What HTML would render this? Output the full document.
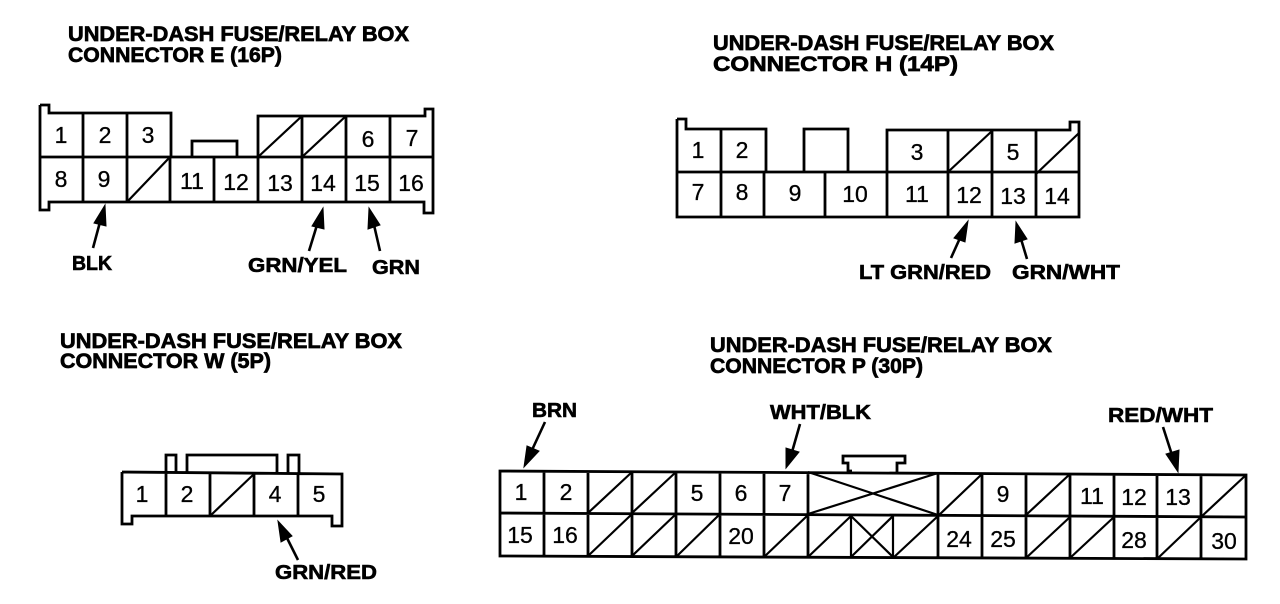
<!DOCTYPE html>
<html><head><meta charset="utf-8"><style>
html,body{margin:0;padding:0;background:#fff;width:1280px;height:604px;overflow:hidden}
svg{display:block}
.t{font:bold 21.5px "Liberation Sans",sans-serif;fill:#000;stroke:#000;stroke-width:.7px}
.l{font:bold 20px "Liberation Sans",sans-serif;fill:#000;stroke:#000;stroke-width:.6px}
.n text{font:23px "Liberation Sans",sans-serif;fill:#000;text-anchor:middle;stroke:#000;stroke-width:.3px}
.s{fill:none;stroke:#000;stroke-width:2.8;stroke-linejoin:miter}
.d{fill:none;stroke:#000;stroke-width:2.2}
.a line{stroke:#000;stroke-width:2.6}
.a polygon{fill:#000;stroke:#000;stroke-width:1}
</style></head><body>
<svg width="1280" height="604" viewBox="0 0 1280 604" xmlns="http://www.w3.org/2000/svg">
<!-- titles -->
<text class="t" x="68" y="41" textLength="341" lengthAdjust="spacingAndGlyphs">UNDER-DASH FUSE/RELAY BOX</text>
<text class="t" x="68" y="62" textLength="214" lengthAdjust="spacingAndGlyphs">CONNECTOR E (16P)</text>
<text class="t" x="713" y="50" textLength="341" lengthAdjust="spacingAndGlyphs">UNDER-DASH FUSE/RELAY BOX</text>
<text class="t" x="713" y="71" textLength="245" lengthAdjust="spacingAndGlyphs">CONNECTOR H (14P)</text>
<text class="t" x="60" y="348" textLength="342" lengthAdjust="spacingAndGlyphs">UNDER-DASH FUSE/RELAY BOX</text>
<text class="t" x="60" y="368" textLength="211" lengthAdjust="spacingAndGlyphs">CONNECTOR W (5P)</text>
<text class="t" x="710" y="352" textLength="342" lengthAdjust="spacingAndGlyphs">UNDER-DASH FUSE/RELAY BOX</text>
<text class="t" x="710" y="373" textLength="213" lengthAdjust="spacingAndGlyphs">CONNECTOR P (30P)</text>

<!-- connector E -->
<path class="s" d="M40 105H49V113H171V157M40 105V210H49V202H424V213H433V109H425V116H258V157M40 157H432M192 157V141H237V157M83 113V202M127 113V202M170 157V202M214 157V202M258 157V202M302 116V202M346 116V202M390 116V202"/>
<path class="d" d="M127 202L170 157M258 157L302 116M302 157L346 116"/>
<g class="n">
<text x="61" y="143">1</text><text x="105" y="143">2</text><text x="148" y="143">3</text><text x="368" y="147">6</text><text x="412" y="146">7</text>
<text x="61" y="187">8</text><text x="104" y="187">9</text><text x="192" y="189">11</text><text x="236" y="190">12</text><text x="280" y="191">13</text><text x="323" y="191">14</text><text x="367" y="191">15</text><text x="411" y="191">16</text>
</g>

<!-- connector H -->
<path class="s" d="M677 119H686V129H766V172M677 119V217H1079V122H1070V130H887V172M677 172H1079M804 172V129H848V172M721 129V217M764 172V217M825 172V217M887 172V217M948 130V217M992 130V217M1036 130V217"/>
<path class="d" d="M948 172L992 131M1036 174L1079 133"/>
<g class="n">
<text x="698" y="158">1</text><text x="742" y="158">2</text><text x="917" y="160">3</text><text x="1013" y="160">5</text>
<text x="698" y="200">7</text><text x="742" y="200">8</text><text x="795" y="201">9</text><text x="855" y="202">10</text><text x="917" y="202">11</text><text x="969" y="203">12</text><text x="1013" y="204">13</text><text x="1057" y="204">14</text>
</g>

<!-- connector W -->
<path class="s" d="M122 472V524H132V516H332V526H342V474L122 472M166 472V516M210 473V516M254 473V516M298 473V516M166 472V455H176V472M187 472V455H277V473M288 473V455H299V473"/>
<path class="d" d="M210 516L254 474"/>
<g class="n"><text x="142" y="502">1</text><text x="187" y="502">2</text><text x="275" y="502">4</text><text x="319" y="502">5</text></g>

<!-- connector P -->
<path class="s" d="M500 471L1246 475V559L500 556ZM500 513L1246 517M544 471V556M588 471V556M632 471V556M676 472V557M720 472V557M764 472V557M808 472V557M938 473V558M982 474V558M1026 474V558M1070 474V558M1114 474V558M1157 475V559M1201 475V559"/>
<path class="d" d="M851 516V557M893 516V558"/>
<path class="s" d="M852 471H848V463H843V456H905V463H897V472"/>
<path class="d" d="M588 513L632 472M632 513L676 472M938 516L982 474M1026 515L1070 474M1201 517L1246 475M808 472L938 515M808 514L938 473M588 556L632 514M632 556L676 514M676 557L720 514M764 557L808 515M808 557L851 516M851 516L893 557M851 557L893 516M893 558L938 516M1026 558L1070 517M1070 558L1114 517M1157 559L1201 517"/>
<g class="n">
<text x="521" y="500">1</text><text x="566" y="500">2</text><text x="697" y="501">5</text><text x="741" y="501">6</text><text x="785" y="501">7</text><text x="1003" y="502">9</text><text x="1092" y="504">11</text><text x="1134" y="505">12</text><text x="1178" y="505">13</text>
<text x="520" y="543">15</text><text x="565" y="543">16</text><text x="741" y="544">20</text><text x="959" y="547">24</text><text x="1003" y="547">25</text><text x="1134" y="548">28</text><text x="1224" y="549">30</text>
</g>

<!-- arrows -->
<g class="a">
<line x1="93" y1="248" x2="100" y2="222"/><polygon points="105,205 94,223 106,226"/>
<line x1="309" y1="251" x2="317" y2="225"/><polygon points="323,208 312,226 324,229"/>
<line x1="380" y1="251" x2="374" y2="225"/><polygon points="369,208 368,229 380,225"/>
<line x1="951" y1="258" x2="960" y2="238"/><polygon points="968,221 954,238 965,242"/>
<line x1="1027" y1="259" x2="1021" y2="239"/><polygon points="1016,222 1015,243 1027,239"/>
<line x1="298" y1="560" x2="287" y2="538"/><polygon points="278,521 281,542 292,536"/>
<line x1="545" y1="422" x2="532" y2="450"/><polygon points="524,467 539,451 527,446"/>
<line x1="800" y1="424" x2="792" y2="452"/><polygon points="786,468 799,452 786,448"/>
<line x1="1163" y1="427" x2="1172" y2="455"/><polygon points="1178,472 1179,450 1166,454"/>
</g>

<!-- labels -->
<text class="l" x="72" y="270" textLength="40" lengthAdjust="spacingAndGlyphs">BLK</text>
<text class="l" x="248" y="272" textLength="99" lengthAdjust="spacingAndGlyphs">GRN/YEL</text>
<text class="l" x="372" y="274" textLength="48" lengthAdjust="spacingAndGlyphs">GRN</text>
<text class="l" x="859" y="279" textLength="132" lengthAdjust="spacingAndGlyphs">LT GRN/RED</text>
<text class="l" x="1012" y="279" textLength="108" lengthAdjust="spacingAndGlyphs">GRN/WHT</text>
<text class="l" x="275" y="579" textLength="102" lengthAdjust="spacingAndGlyphs">GRN/RED</text>
<text class="l" x="532" y="417" textLength="45" lengthAdjust="spacingAndGlyphs">BRN</text>
<text class="l" x="770" y="419" textLength="101" lengthAdjust="spacingAndGlyphs">WHT/BLK</text>
<text class="l" x="1108" y="422" textLength="105" lengthAdjust="spacingAndGlyphs">RED/WHT</text>
</svg>
</body></html>
